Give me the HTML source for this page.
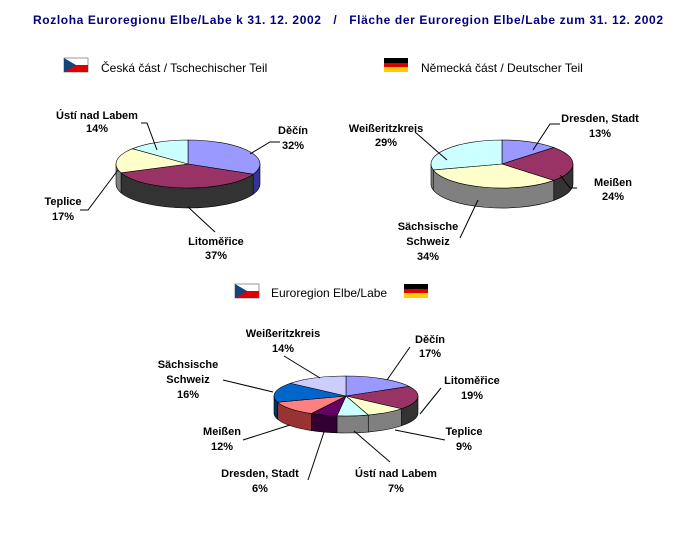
<!DOCTYPE html>
<html><head><meta charset="utf-8"><style>
body{margin:0;background:#fff}
svg{display:block}
text{font-family:"Liberation Sans",Arial,sans-serif;font-size:11px;font-weight:bold;fill:#000;text-anchor:middle}
.t{font-size:12px;fill:#000080;text-anchor:start}
.l{font-weight:normal;font-size:12px;text-anchor:start}
line,polyline{stroke:#000;stroke-width:1;fill:none}
</style></head><body>
<svg id="s" width="695" height="550" xmlns="http://www.w3.org/2000/svg">
<text class="t" x="33" y="24" textLength="630" lengthAdjust="spacing" xml:space="preserve">Rozloha Euroregionu Elbe/Labe k 31. 12. 2002   /   Fläche der Euroregion Elbe/Labe zum 31. 12. 2002</text>
<g><rect x="64" y="58" width="24" height="14" fill="#fff" stroke="#999"/><rect x="64" y="65" width="24" height="7" fill="#d00"/><polygon points="64,58 76,65 64,72" fill="#11457e"/></g>
<text class="l" x="101" y="72">Česká část / Tschechischer Teil</text>
<g><rect x="384" y="58" width="24" height="5" fill="#000"/><rect x="384" y="63" width="24" height="4" fill="#d00"/><rect x="384" y="67" width="24" height="5" fill="#fc0"/></g>
<text class="l" x="421" y="72">Německá část / Deutscher Teil</text>
<g><rect x="235" y="284" width="24" height="14" fill="#fff" stroke="#999"/><rect x="235" y="291" width="24" height="7" fill="#d00"/><polygon points="235,284 247,291 235,298" fill="#11457e"/></g>
<text class="l" x="271" y="297">Euroregion Elbe/Labe</text>
<g><rect x="404" y="284" width="24" height="5" fill="#000"/><rect x="404" y="289" width="24" height="4" fill="#d00"/><rect x="404" y="293" width="24" height="5" fill="#fc0"/></g>
<g id="pies"></g>
<polyline points="141,123 147,123 157,150"/>
<polyline points="250,154 270,142 280,142"/>
<polyline points="80,210 88,210 118,170"/>
<polyline points="188,207 215,232"/>
<polyline points="415,132 447,160"/>
<polyline points="560,124 550,124 533,150"/>
<polyline points="577,188 570,188 560,175"/>
<polyline points="460,238 478,200"/>
<polyline points="284,356 320,378"/>
<polyline points="410,347 387,380"/>
<polyline points="441,388 420,414"/>
<polyline points="223,380 273,392"/>
<polyline points="445,440 395,430"/>
<polyline points="243,440 290,425"/>
<polyline points="308,480 324,432"/>
<polyline points="390,462 354,431"/>
<text x="97" y="119">Ústí nad Labem</text><text x="97" y="132">14%</text>
<text x="293" y="134">Děčín</text><text x="293" y="149">32%</text>
<text x="63" y="205">Teplice</text><text x="63" y="220">17%</text>
<text x="216" y="245">Litoměřice</text><text x="216" y="259">37%</text>
<text x="386" y="132">Weißeritzkreis</text><text x="386" y="146">29%</text>
<text x="600" y="122">Dresden, Stadt</text><text x="600" y="137">13%</text>
<text x="613" y="186">Meißen</text><text x="613" y="200">24%</text>
<text x="428" y="230">Sächsische</text><text x="428" y="245">Schweiz</text><text x="428" y="260">34%</text>
<text x="283" y="337">Weißeritzkreis</text><text x="283" y="352">14%</text>
<text x="430" y="343">Děčín</text><text x="430" y="357">17%</text>
<text x="472" y="384">Litoměřice</text><text x="472" y="399">19%</text>
<text x="188" y="368">Sächsische</text><text x="188" y="383">Schweiz</text><text x="188" y="398">16%</text>
<text x="464" y="435">Teplice</text><text x="464" y="450">9%</text>
<text x="222" y="435">Meißen</text><text x="222" y="450">12%</text>
<text x="260" y="477">Dresden, Stadt</text><text x="260" y="492">6%</text>
<text x="396" y="477">Ústí nad Labem</text><text x="396" y="492">7%</text>
</svg>
<script>
var G=document.getElementById("pies");
function pie(cx,cy,rx,ry,d,sl){
 var P=function(t,dy){t=t*Math.PI/180;return [cx+rx*Math.sin(t),cy-ry*Math.cos(t)+(dy||0)];};
 var a=0,arr=[];
 sl.forEach(function(s){arr.push([a,a+s[0]*3.6,s[1],s[2]]);a+=s[0]*3.6;});
 var sides="",tops="";
 arr.forEach(function(s){
  var a0=Math.max(s[0],90),a1=Math.min(s[1],270);
  if(a1>a0){var p0=P(a0),p1=P(a1),q1=P(a1,d),q0=P(a0,d);
   sides+='<path d="M'+p0+' A'+rx+','+ry+' 0 0,1 '+p1+' L'+q1+' A'+rx+','+ry+' 0 0,0 '+q0+' Z" fill="'+s[3]+'" stroke="#000" stroke-width="0.6"/>';
  }
  var p0=P(s[0]),p1=P(s[1]),lg=(s[1]-s[0])>180?1:0;
  tops+='<path d="M'+cx+','+cy+' L'+p0+' A'+rx+','+ry+' 0 '+lg+',1 '+p1+' Z" fill="'+s[2]+'" stroke="#000" stroke-width="0.6"/>';
 });
 G.innerHTML+=sides+tops;
}
pie(188,164,72,24,20,[[32,"#9999ff","#333399"],[37,"#993366","#333333"],[17,"#ffffcc","#808080"],[14,"#ccffff","#808080"]]);
pie(502,164,71,24,20,[[13,"#9999ff","#333399"],[24,"#993366","#333333"],[34,"#ffffcc","#808080"],[29,"#ccffff","#808080"]]);
pie(346,396,72,20,17,[[17,"#9999ff","#333399"],[19,"#993366","#333333"],[9,"#ffffcc","#808080"],[7,"#ccffff","#808080"],[6,"#660066","#330033"],[12,"#ff8080","#993333"],[16,"#0066cc","#003366"],[14,"#ccccff","#666699"]]);
</script>
</body></html>
